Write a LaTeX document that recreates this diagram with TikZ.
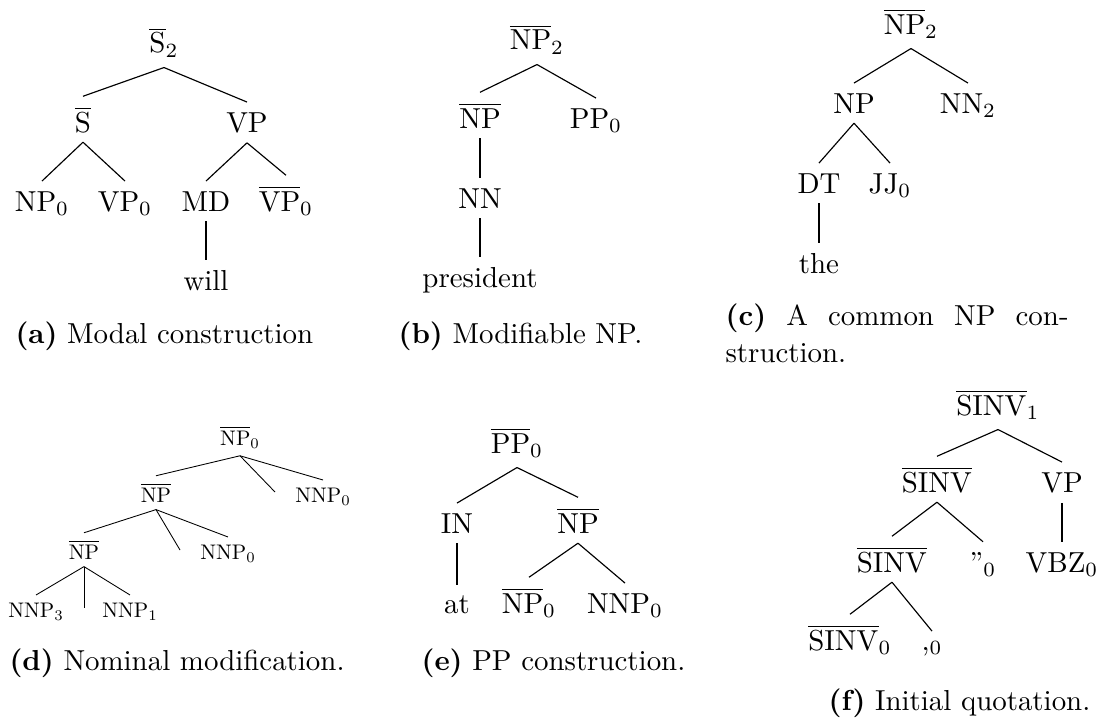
\documentclass[tikz,border=0pt]{standalone}
\usepackage{graphicx}
\tikzset{
  tn/.style={anchor=base, inner sep=3.33pt},
  sm/.style={anchor=base, inner sep=2.43pt},
  capn/.style={anchor=base west, inner sep=0pt},
  br/.style={line width=0.4pt},
  sbr/.style={line width=0.3pt}
}
\newcommand{\ob}[1]{$\overline{\mathrm{#1}}$}
\newcommand{\obs}[2]{$\overline{\mathrm{#1}}_{#2}$}
\newcommand{\sml}[1]{\scalebox{0.73}{#1}}
\begin{document}
\begin{tikzpicture}[x=0.346pt, y=-0.346pt]
\useasboundingbox (0,0) rectangle (1106,719);
% ---------- (a)
\node[tn] (a0) at (164,53) {\obs{S}{2}};
\node[tn] (a1) at (83,132) {\ob{S}};
\node[tn] (a2) at (247,132) {VP};
\node[tn] (a3) at (42,211) {NP$_0$};
\node[tn] (a4) at (125,211) {VP$_0$};
\node[tn] (a5) at (206,211) {MD};
\node[tn] (a6) at (286,211) {\obs{VP}{0}};
\node[tn] (a7) at (206,290) {will};
\draw[br] (a0.south) -- (a1.north);
\draw[br] (a0.south) -- (a2.north);
\draw[br] (a1.south) -- (a3.north);
\draw[br] (a1.south) -- (a4.north);
\draw[br] (a2.south) -- (a5.north);
\draw[br] (a2.south) -- (a6.north);
\draw[br] (a5.south) -- (a7.north);
\node[capn] (acap) at (15,343) {\textbf{(a)} Modal construction};
% ---------- (b)
\node[tn] (b0) at (537,50) {\obs{NP}{2}};
\node[tn] (b1) at (480,128) {\ob{NP}};
\node[tn] (b2) at (596,128) {PP$_0$};
\node[tn] (b3) at (480,208) {NN};
\node[tn] (b4) at (480,287) {president};
\draw[br] (b0.south) -- (b1.north);
\draw[br] (b0.south) -- (b2.north);
\draw[br] (b1.south) -- (b3.north);
\draw[br] (b3.south) -- (b4.north);
\node[capn] (bcap) at (398,343) {\textbf{(b)} Modifiable NP.};
% ---------- (c)
\node[tn] (c0) at (911,34) {\obs{NP}{2}};
\node[tn] (c1) at (854,113) {NP};
\node[tn] (c2) at (968,113) {NN$_2$};
\node[tn] (c3) at (819,193) {DT};
\node[tn] (c4) at (890,193) {JJ$_0$};
\node[tn] (c5) at (819,273) {the};
\draw[br] (c0.south) -- (c1.north);
\draw[br] (c0.south) -- (c2.north);
\draw[br] (c1.south) -- (c3.north);
\draw[br] (c1.south) -- (c4.north);
\draw[br] (c3.south) -- (c5.north);
\node[capn] (ccap1) at (725,325) {\makebox[118.7pt][l]{\textbf{(c)}\hfill A\hfill common\hfill NP\hfill con-}};
\node[capn] (ccap2) at (725,362) {struction.};
% ---------- (d)
\node[sm] (d0) at (240,445) {\sml{\obs{NP}{0}}};
\node[sm] (d1) at (156,502) {\sml{\ob{NP}}};
\node[sm] (d2) at (323,502) {\sml{NNP$_0$}};
\node[sm] (d3) at (84,559) {\sml{\ob{NP}}};
\node[sm] (d4) at (228,559) {\sml{NNP$_0$}};
\node[sm] (d5) at (36,617) {\sml{NNP$_3$}};
\node[sm] (d6) at (130,617) {\sml{NNP$_1$}};
\coordinate (de1) at (275,492);
\coordinate (de2) at (180,550);
\coordinate (de3) at (84,608);
\draw[sbr] (d0.south) -- (d1.north);
\draw[sbr] (d0.south) -- (de1);
\draw[sbr] (d0.south) -- (d2.north);
\draw[sbr] (d1.south) -- (d3.north);
\draw[sbr] (d1.south) -- (de2);
\draw[sbr] (d1.south) -- (d4.north);
\draw[sbr] (d3.south) -- (d5.north);
\draw[sbr] (d3.south) -- (de3);
\draw[sbr] (d3.south) -- (d6.north);
\node[capn] (dcap) at (9,670) {\textbf{(d)} Nominal modification.};
% ---------- (e)
\node[tn] (e0) at (517,453) {\obs{PP}{0}};
\node[tn] (e1) at (457,533) {IN};
\node[tn] (e2) at (578,533) {\ob{NP}};
\node[tn] (e3) at (457,613) {at};
\node[tn] (e4) at (529,613) {\obs{NP}{0}};
\node[tn] (e5) at (625,613) {NNP$_0$};
\draw[br] (e0.south) -- (e1.north);
\draw[br] (e0.south) -- (e2.north);
\draw[br] (e1.south) -- (e3.north);
\draw[br] (e2.south) -- (e4.north);
\draw[br] (e2.south) -- (e5.north);
\node[capn] (ecap) at (421,670) {\textbf{(e)} PP construction.};
% ---------- (f)
\node[tn] (f0) at (998,415) {\obs{SINV}{1}};
\node[tn] (f1) at (937,492) {\ob{SINV}};
\node[tn] (f2) at (1062,492) {VP};
\node[tn] (f3) at (892,572) {\ob{SINV}};
\node[tn] (f4) at (983,572) {”$_0$};
\node[tn] (f5) at (1062,572) {VBZ$_0$};
\node[tn] (f6) at (850,650) {\obs{SINV}{0}};
\node[tn] (f7) at (932,650) {,$_0$};
\draw[br] (f0.south) -- (f1.north);
\draw[br] (f0.south) -- (f2.north);
\draw[br] (f1.south) -- (f3.north);
\draw[br] (f1.south) -- (f4.north);
\draw[br] (f2.south) -- (f5.north);
\draw[br] (f3.south) -- (f6.north);
\draw[br] (f3.south) -- (f7.north);
\node[capn] (fcap) at (828,710) {\textbf{(f)} Initial quotation.};
\end{tikzpicture}
\end{document}
